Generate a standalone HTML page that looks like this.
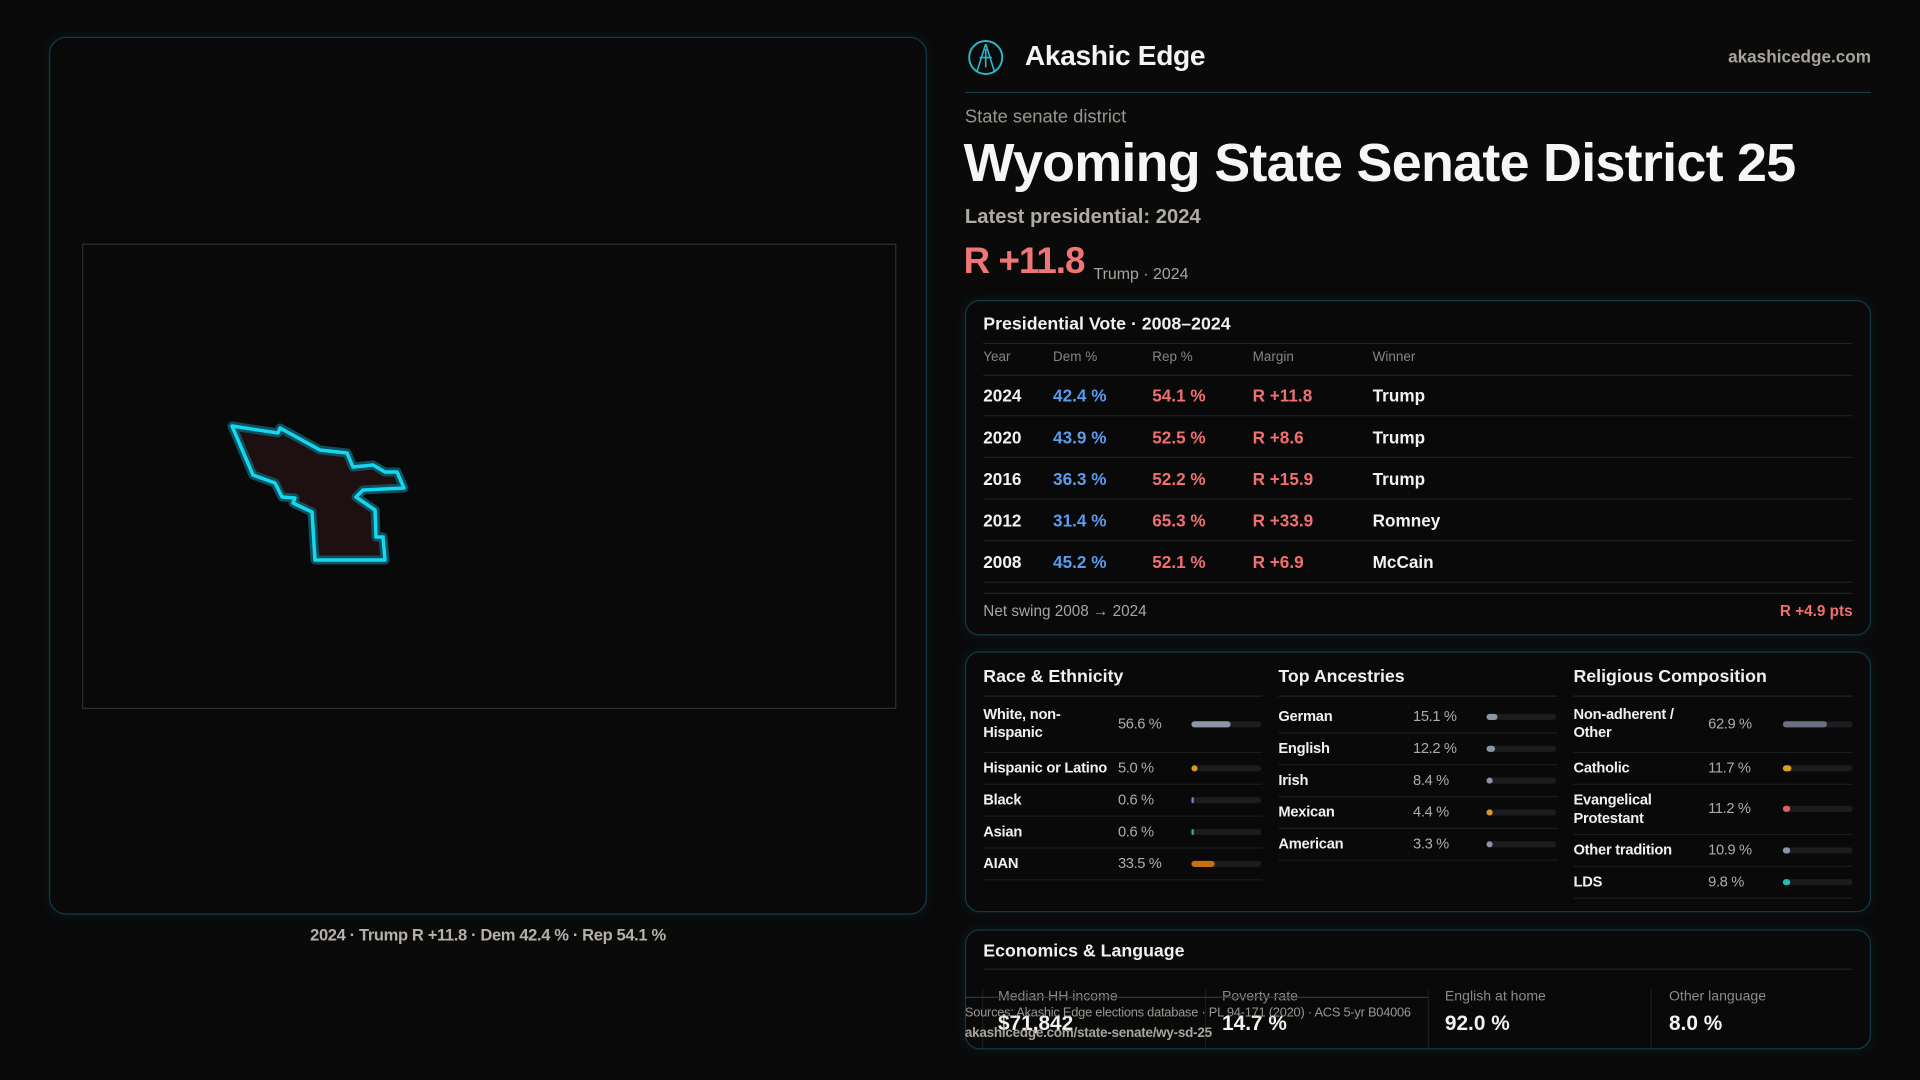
<!DOCTYPE html>
<html><head><meta charset="utf-8">
<style>
*{margin:0;padding:0;box-sizing:border-box}
html,body{width:1920px;height:1080px;background:#0a0a0b;overflow:hidden;font-family:"Liberation Sans",sans-serif}
#w{position:absolute;left:0;top:0;width:1568px;height:882px;transform:scale(1.22449);transform-origin:0 0}
.a{position:absolute;white-space:nowrap}
.card{position:absolute;border:1px solid #123a40;border-radius:12px;background:#09090a;box-shadow:0 0 10px rgba(20,90,100,0.18)}
.hl{position:absolute;height:1px;background:#232323}
.b{font-weight:bold}
.bar{position:absolute;height:5px;border-radius:2.5px;background:#1c1c1f}
.bar i{position:absolute;left:0;top:0;height:5px;border-radius:2.5px}
</style></head><body>
<div id="w">
<div class="card" style="left:40px;top:30px;width:717px;height:717px;border-radius:14px"></div>
<div class="a" style="left:67px;top:199px;width:665px;height:380px;border:1.5px solid #2e2e2e"></div>
<div class="a" style="left:0;width:797px;text-align:center;top:756px;font-size:13.5px;color:#b5b0a8;font-weight:bold;letter-spacing:-0.3px">2024 · Trump R +11.8 · Dem 42.4 % · Rep 54.1 %</div>

<svg class="a" style="left:789px;top:31px" width="32" height="32" viewBox="0 0 32 32"><circle cx="16" cy="16" r="13.5" fill="none" stroke="#2ab8c8" stroke-width="1.6"/><path d="M16 5 L9 27 M16 5 L23 27 M11 16 L21 16 M16 9 L16 24" stroke="#2ab8c8" stroke-width="1.3" fill="none"/></svg>
<div class="a b" style="left:837px;top:32px;font-size:23px;color:#f4f4f4;letter-spacing:-0.3px">Akashic Edge</div>
<div class="a b" style="right:40px;top:38px;font-size:14px;color:#a9a49d">akashicedge.com</div>
<div class="hl" style="left:788px;width:740px;top:75px;background:#143c42"></div>
<div class="a" style="left:788px;top:87px;font-size:15px;color:#9a958e">State senate district</div>
<div class="a b" style="left:787px;top:109px;font-size:44px;color:#f6f6f4;letter-spacing:-0.6px">Wyoming State Senate District 25</div>
<div class="a b" style="left:788px;top:168px;font-size:16.5px;color:#b0aba4">Latest presidential: 2024</div>
<div class="a b" style="left:787px;top:197px;font-size:30px;color:#f07676;letter-spacing:-0.8px">R +11.8</div>
<div class="a" style="left:893px;top:216px;font-size:13px;color:#a9a49d">Trump · 2024</div>

<div class="card" style="left:788px;top:245px;width:740px;height:274px"></div>
<div class="a b" style="left:803px;top:257px;font-size:14.5px;color:#f0f0f0">Presidential Vote · 2008–2024</div>
<div class="hl" style="left:803px;width:710px;top:280px"></div>
<div class="a" style="left:803px;top:286px;font-size:11px;color:#8a857f">Year</div>
<div class="a" style="left:860px;top:286px;font-size:11px;color:#8a857f">Dem %</div>
<div class="a" style="left:941px;top:286px;font-size:11px;color:#8a857f">Rep %</div>
<div class="a" style="left:1023px;top:286px;font-size:11px;color:#8a857f">Margin</div>
<div class="a" style="left:1121px;top:286px;font-size:11px;color:#8a857f">Winner</div>
<div class="hl" style="left:803px;width:710px;top:306px"></div>
<div style="position:absolute;left:803px;top:306px;width:710px;font-size:14px;font-weight:bold">
 <div style="position:relative;height:34px;border-bottom:1px solid #202020"><span class="a" style="left:0;top:9px;color:#f2f2f2">2024</span><span class="a" style="left:57px;top:9px;color:#5a9cf0">42.4 %</span><span class="a" style="left:138px;top:9px;color:#f07070">54.1 %</span><span class="a" style="left:220px;top:9px;color:#f07070">R +11.8</span><span class="a" style="left:318px;top:9px;color:#f2f2f2">Trump</span></div>
 <div style="position:relative;height:34px;border-bottom:1px solid #202020"><span class="a" style="left:0;top:9px;color:#f2f2f2">2020</span><span class="a" style="left:57px;top:9px;color:#5a9cf0">43.9 %</span><span class="a" style="left:138px;top:9px;color:#f07070">52.5 %</span><span class="a" style="left:220px;top:9px;color:#f07070">R +8.6</span><span class="a" style="left:318px;top:9px;color:#f2f2f2">Trump</span></div>
 <div style="position:relative;height:34px;border-bottom:1px solid #202020"><span class="a" style="left:0;top:9px;color:#f2f2f2">2016</span><span class="a" style="left:57px;top:9px;color:#5a9cf0">36.3 %</span><span class="a" style="left:138px;top:9px;color:#f07070">52.2 %</span><span class="a" style="left:220px;top:9px;color:#f07070">R +15.9</span><span class="a" style="left:318px;top:9px;color:#f2f2f2">Trump</span></div>
 <div style="position:relative;height:34px;border-bottom:1px solid #202020"><span class="a" style="left:0;top:9px;color:#f2f2f2">2012</span><span class="a" style="left:57px;top:9px;color:#5a9cf0">31.4 %</span><span class="a" style="left:138px;top:9px;color:#f07070">65.3 %</span><span class="a" style="left:220px;top:9px;color:#f07070">R +33.9</span><span class="a" style="left:318px;top:9px;color:#f2f2f2">Romney</span></div>
 <div style="position:relative;height:34px;border-bottom:1px solid #202020"><span class="a" style="left:0;top:9px;color:#f2f2f2">2008</span><span class="a" style="left:57px;top:9px;color:#5a9cf0">45.2 %</span><span class="a" style="left:138px;top:9px;color:#f07070">52.1 %</span><span class="a" style="left:220px;top:9px;color:#f07070">R +6.9</span><span class="a" style="left:318px;top:9px;color:#f2f2f2">McCain</span></div>
</div>
<div class="hl" style="left:803px;width:710px;top:484px"></div>
<div class="a" style="left:803px;top:492px;font-size:12.5px;color:#a9a49d">Net swing 2008 → 2024</div>
<div class="a b" style="right:55px;top:492px;font-size:12.5px;color:#f07070">R +4.9 pts</div>

<div class="card" style="left:788px;top:532px;width:740px;height:213px"></div>
<div id="c2"></div>

<div class="card" style="left:788px;top:759px;width:740px;height:98px"></div>
<div class="a b" style="left:803px;top:769px;font-size:14.5px;color:#f0f0f0">Economics &amp; Language</div>
<div class="hl" style="left:803px;width:710px;top:791px"></div>
<div class="a" style="left:802px;top:808px;width:1px;height:48px;background:#1c1c1c"></div>
<div class="a" style="left:984px;top:808px;width:1px;height:48px;background:#1c1c1c"></div>
<div class="a" style="left:1166px;top:808px;width:1px;height:48px;background:#1c1c1c"></div>
<div class="a" style="left:1348px;top:808px;width:1px;height:48px;background:#1c1c1c"></div>
<div class="a" style="left:815px;top:808px;font-size:11.5px;color:#8f8a84">Median HH income</div>
<div class="a" style="left:998px;top:808px;font-size:11.5px;color:#8f8a84">Poverty rate</div>
<div class="a" style="left:1180px;top:808px;font-size:11.5px;color:#8f8a84">English at home</div>
<div class="a" style="left:1363px;top:808px;font-size:11.5px;color:#8f8a84">Other language</div>
<div class="a b" style="left:815px;top:826px;font-size:17px;color:#f2f2f2">$71,842</div>
<div class="a b" style="left:998px;top:826px;font-size:17px;color:#f2f2f2">14.7 %</div>
<div class="a b" style="left:1180px;top:826px;font-size:17px;color:#f2f2f2">92.0 %</div>
<div class="a b" style="left:1363px;top:826px;font-size:17px;color:#f2f2f2">8.0 %</div>
<div class="hl" style="left:788px;width:378px;top:814px;background:#14424a"></div>
<div class="a" style="left:788px;top:821px;font-size:10.5px;color:#9a958e;letter-spacing:-0.2px">Sources: Akashic Edge elections database · PL 94-171 (2020) · ACS 5-yr B04006</div>
<div class="a b" style="left:788px;top:838px;font-size:11px;color:#a9a49d;letter-spacing:-0.2px">akashicedge.com/state-senate/wy-sd-25</div>
</div>

<svg class="a" style="left:0;top:0" width="1920" height="1080" viewBox="0 0 1920 1080">
<polygon points="232,426 278,433 280,428 320,450 347,453 353,467 373,465 385,472 397,472 404,488 363,490 356,497 375,510 376,537 383,537 385,560 315,560 312,512 293,503 295,498 282,497 275,483 253,475" fill="#1e1011" stroke="#0f4e5a" stroke-width="9" stroke-linejoin="round"/>
<polygon points="232,426 278,433 280,428 320,450 347,453 353,467 373,465 385,472 397,472 404,488 363,490 356,497 375,510 376,537 383,537 385,560 315,560 312,512 293,503 295,498 282,497 275,483 253,475" fill="none" stroke="#14d8f0" stroke-width="3.5" stroke-linejoin="round"/>
</svg>

<script>
var cols=[
 {x:803,t:"Race & Ethnicity",vx:913,bx:973,y0:568,rows:[["White, non-<br>Hispanic","56.6 %",56.6,"#8b95a5",46],["Hispanic or Latino","5.0 %",5,"#d89a20",26],["Black","0.6 %",0.6,"#8a70d0",26],["Asian","0.6 %",0.6,"#20b090",26],["AIAN","33.5 %",33.5,"#c87010",26]]},
 {x:1044,t:"Top Ancestries",vx:1154,bx:1214,y0:572,rows:[["German","15.1 %",15.1,"#8b95a5",26],["English","12.2 %",12.2,"#8b95a5",26],["Irish","8.4 %",8.4,"#8b95a5",26],["Mexican","4.4 %",4.4,"#d89a20",26],["American","3.3 %",3.3,"#8b95a5",26]]},
 {x:1285,t:"Religious Composition",vx:1395,bx:1456,y0:568,rows:[["Non-adherent /<br>Other","62.9 %",62.9,"#6a7080",46],["Catholic","11.7 %",11.7,"#d8a020",26],["Evangelical<br>Protestant","11.2 %",11.2,"#e06060",41],["Other tradition","10.9 %",10.9,"#8b95a5",26],["LDS","9.8 %",9.8,"#20c0b0",26]]}];
var h="";
cols.forEach(function(c){
 h+='<div class="a b" style="left:'+c.x+'px;top:545px;font-size:14.5px;color:#f0f0f0">'+c.t.replace("&","&amp;")+'</div>';
 h+='<div class="hl" style="left:'+c.x+'px;width:228px;top:568px"></div>';
 var y=c.y0;
 c.rows.forEach(function(r){
  var hh=r[4], two=r[0].indexOf("<br>")>=0;
  var cy=y+hh/2;
  h+='<div class="a b" style="left:'+c.x+'px;top:'+(cy-(two?15:7.5))+'px;font-size:12px;line-height:15px;color:#f0f0f0;letter-spacing:-0.2px">'+r[0]+'</div>';
  h+='<div class="a" style="left:'+c.vx+'px;top:'+(cy-7.5)+'px;font-size:12px;line-height:15px;color:#b0aba4;letter-spacing:-0.3px">'+r[1]+'</div>';
  var w=57*r[2]/100;
  h+='<div class="bar" style="left:'+c.bx+'px;width:57px;top:'+(cy-2.5)+'px"><i style="width:'+(r[2]<2?1.5:Math.max(5,w))+'px;background:'+r[3]+'"></i></div>';
  y+=hh;
  h+='<div class="hl" style="left:'+c.x+'px;width:228px;top:'+y+'px;background:#1c1c1c"></div>';
 });
});
document.getElementById("c2").innerHTML=h;
</script>
</body></html>
